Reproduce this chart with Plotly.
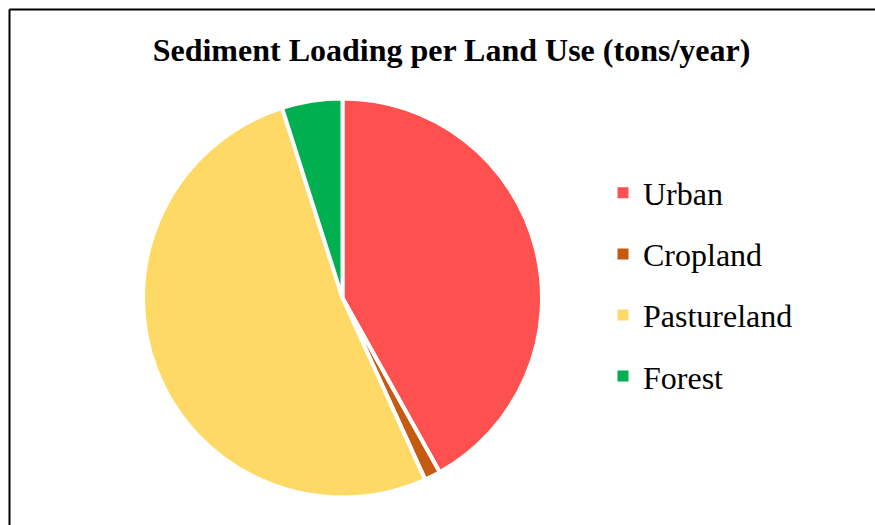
import plotly.graph_objects as go

categories = ["Urban", "Cropland", "Pastureland", "Forest"]
values = [41.9, 1.3, 51.9, 4.9]
colors = ["#FF5050", "#C55A11", "#FFD966", "#00B050"]
title_text = "Sediment Loading per Land Use (tons/year)"

W, H = 875, 525
cx, cy, r = 342.5, 298, 199.5

fig = go.Figure()
fig.add_trace(go.Pie(
    labels=categories, values=values, sort=False, direction="clockwise",
    rotation=0, textinfo="none", hoverinfo="label+value",
    marker=dict(colors=colors, line=dict(color="white", width=4)),
    domain=dict(x=[(cx - r) / W, (cx + r) / W], y=[(H - cy - r) / H, (H - cy + r) / H]),
    showlegend=False,
))
for i, (c, col) in enumerate(zip(categories, colors)):
    fig.add_trace(go.Scatter(
        x=[None], y=[None], mode="markers", name=c, legendgroup=c,
        marker=dict(symbol="square", size=11, color=col),
        showlegend=True,
    ))

fig.update_layout(
    width=W, height=H,
    margin=dict(l=0, r=0, t=0, b=0),
    paper_bgcolor="white", plot_bgcolor="white",
    xaxis=dict(visible=False), yaxis=dict(visible=False),
    title=dict(text="<b>" + title_text + "</b>", x=451.5 / W, xanchor="center",
               y=1 - 50 / H, yanchor="middle",
               font=dict(family="Liberation Serif, Times New Roman, serif", size=32, color="black")),
    legend=dict(x=603 / W, xanchor="left", y=1 - 284.5 / H, yanchor="middle",
                font=dict(family="Liberation Serif, Times New Roman, serif", size=32, color="black"),
                traceorder="grouped", tracegroupgap=16.5, bgcolor="rgba(0,0,0,0)"),
    shapes=[
        dict(type="line", xref="paper", yref="paper", x0=9.5 / W, x1=1.01, y0=1 - 9.5 / H, y1=1 - 9.5 / H,
             line=dict(color="black", width=2)),
        dict(type="line", xref="paper", yref="paper", x0=9.5 / W, x1=9.5 / W, y0=-0.01, y1=1 - 9.5 / H,
             line=dict(color="black", width=2)),
    ],
)
fig.write_html("out.html", config={"displayModeBar": False},
               post_script="document.body.style.margin='0';document.body.style.padding='0';")
